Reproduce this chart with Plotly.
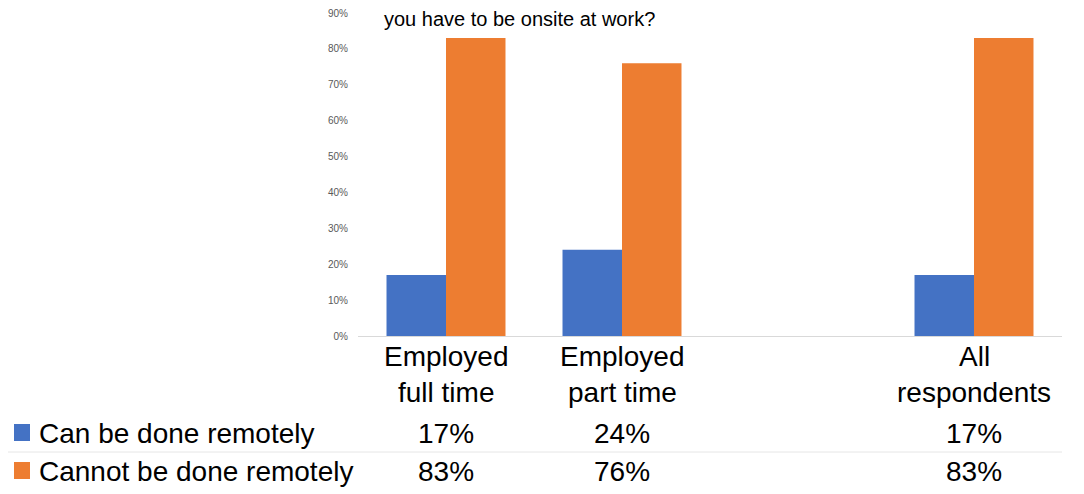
import plotly.graph_objects as go

categories = ["Employed full time", "Employed part time", "", "All respondents"]
category_lines = [["Employed", "full time"], ["Employed", "part time"], ["", ""], ["All", "respondents"]]
series_names = ["Can be done remotely", "Cannot be done remotely"]
can_remote = [17, 24, None, 17]
cannot_remote = [83, 76, None, 83]
series_values = [can_remote, cannot_remote]
series_colors = ["#4472C4", "#ED7D31"]
y_ticks = [0, 10, 20, 30, 40, 50, 60, 70, 80, 90]
y_tick_labels = [f"{v}%" for v in y_ticks]
title_text = "you have to be onsite at work?"

FONT = "Liberation Sans, Arial, sans-serif"
OFF = 8  # page body margin

fig = go.Figure()
for name, vals, col in zip(series_names, series_values, series_colors):
    fig.add_trace(go.Bar(x=categories, y=vals, name=name, marker_color=col,
                         marker_line_width=0, showlegend=False))

# target screen geometry of the plot area
SX0, SX1, SY0, SY1 = 358, 1062, 13, 336
W, H = 1084 - OFF, 494 - OFF
L, T = SX0 - OFF, SY0 - OFF
R = W - (SX1 - OFF)
B = H - (SY1 - OFF)
pw, ph = SX1 - SX0, SY1 - SY0

def px_x(x):
    return (x - SX0) / pw

def px_y(y):
    return (SY1 - y) / ph

annotations = []
shapes = []
# category labels (two lines)
for cat, lines in zip(categories, category_lines):
    for line, ypix in zip(lines, [356, 392]):
        if line:
            annotations.append(dict(x=cat, xref="x", y=px_y(ypix), yref="paper",
                                    text=line, showarrow=False, xanchor="center", yanchor="middle",
                                    font=dict(family=FONT, size=28, color="#000000")))
# table rows
row_y = [433, 471]
for name, vals, col, ypix in zip(series_names, series_values, series_colors, row_y):
    annotations.append(dict(x=px_x(37), xref="paper", y=px_y(ypix), yref="paper",
                            text=name, showarrow=False, xanchor="left", yanchor="middle",
                            font=dict(family=FONT, size=28, color="#000000")))
    shapes.append(dict(type="rect", xref="paper", yref="paper",
                       x0=px_x(14), x1=px_x(30), y0=px_y(ypix - 9), y1=px_y(ypix + 8),
                       fillcolor=col, line=dict(width=0)))
    for cat, v in zip(categories, vals):
        if v is not None:
            annotations.append(dict(x=cat, xref="x", y=px_y(ypix), yref="paper",
                                    text=f"{v}%", showarrow=False, xanchor="center", yanchor="middle",
                                    font=dict(family=FONT, size=28, color="#000000")))
# separator line between table rows
shapes.append(dict(type="line", xref="paper", yref="paper", x0=px_x(4), x1=1.0,
                   y0=px_y(452), y1=px_y(452), line=dict(color="#E6E6E6", width=1)))
# title fragment
annotations.append(dict(x=px_x(382), xref="paper", y=px_y(19), yref="paper",
                        text=title_text, showarrow=False, xanchor="left", yanchor="middle",
                        font=dict(family=FONT, size=20, color="#000000")))

fig.update_layout(
    width=W, height=H,
    margin=dict(l=L, r=R, t=T, b=B, autoexpand=False),
    paper_bgcolor="white", plot_bgcolor="white",
    barmode="group", bargap=0.324, bargroupgap=0,
    annotations=annotations, shapes=shapes,
    showlegend=False,
)
fig.update_xaxes(type="category", categoryorder="array", categoryarray=categories,
                 showticklabels=False, showgrid=False, ticks="",
                 showline=True, linecolor="#D9D9D9", linewidth=1, zeroline=False)
fig.update_yaxes(range=[0, 90], tickmode="array", tickvals=y_ticks, ticktext=y_tick_labels,
                 showgrid=False, zeroline=False, showline=False, ticks="",
                 ticklabelstandoff=9, ticklabeloverflow="allow",
                 tickfont=dict(family=FONT, size=10, color="#595959"))

fig.write_html("out.html")
